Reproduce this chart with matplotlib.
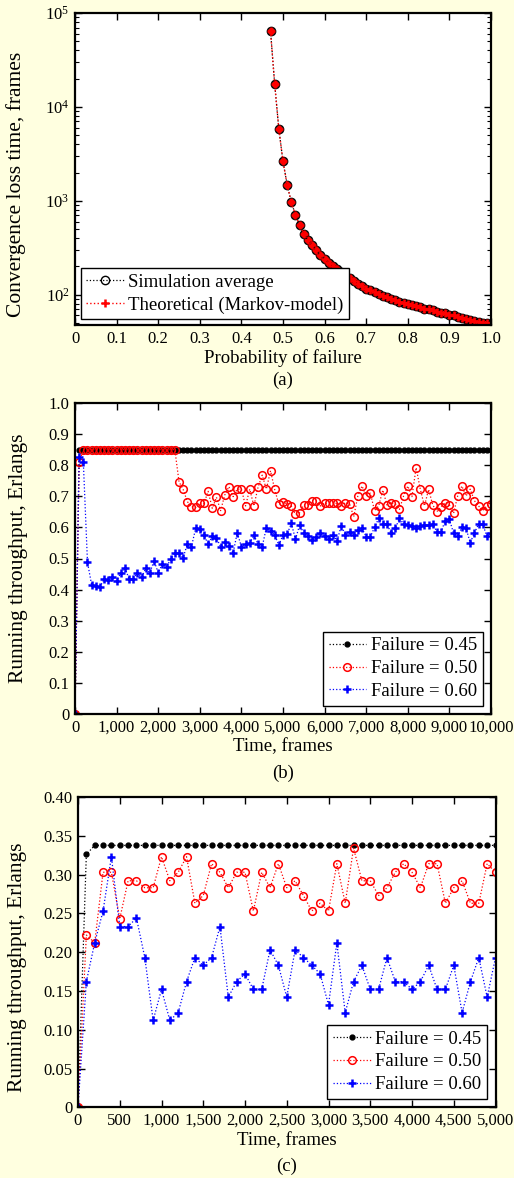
import matplotlib
matplotlib.use("Agg")
import matplotlib.pyplot as plt
from matplotlib.ticker import FuncFormatter, MultipleLocator, LogLocator, NullFormatter
import numpy as np

plt.rcParams['font.family'] = ['Liberation Serif', 'DejaVu Serif']
plt.rcParams['mathtext.fontset'] = 'stix'

BG = '#FFFFE0'

# ---------------- Panel (a) data ----------------
p_fail = [0.47, 0.48, 0.49, 0.50, 0.51, 0.52, 0.53, 0.54, 0.55, 0.56,
          0.57, 0.58, 0.59, 0.60, 0.61, 0.62, 0.63, 0.64, 0.65, 0.66,
          0.67, 0.68, 0.69, 0.70, 0.71, 0.72, 0.73, 0.74, 0.75, 0.76,
          0.77, 0.78, 0.79, 0.80, 0.81, 0.82, 0.83, 0.84, 0.85, 0.86,
          0.87, 0.88, 0.89, 0.90, 0.91, 0.92, 0.93, 0.94, 0.95, 0.96,
          0.97, 0.98, 0.99, 1.00]
sim_avg = [64000, 17500, 5800, 2620, 1480, 960, 710, 546, 445, 385,
           334, 301, 267, 240, 217, 200, 186, 174, 163, 150,
           140, 131, 123, 116, 111, 106, 101, 97, 93.5, 90,
           87, 84.5, 82, 79.5, 77, 75, 73, 71, 69.5, 68,
           66, 64.5, 63, 61, 60, 58.5, 57, 55.5, 54, 52.5,
           51.5, 50.5, 49.5, 48.5]
theory = [64000, 17500, 5800, 2620, 1480, 960, 710, 546, 445, 385,
          334, 301, 267, 240, 217, 200, 186, 174, 163, 150,
          140, 131, 123, 116, 111, 106, 101, 97, 93.5, 90,
          87, 84.5, 82, 79.5, 77, 75, 73, 71, 69.5, 68,
          66, 64.5, 63, 61, 60, 58.5, 57, 55.5, 54, 52.5,
          51.5, 50.5, 49.5, 48.5]

# ---------------- Panel (b) data ----------------
time_b = list(range(0, 10001, 100))
fail045_b = [0.0] + [0.85] * 100
fail050_b = ([0.0, 0.81] + [0.85] * 23 +
             [0.747, 0.722, 0.683, 0.667, 0.664, 0.677, 0.677, 0.716, 0.661, 0.697,
              0.654, 0.704, 0.731, 0.699, 0.723, 0.723, 0.669, 0.723, 0.669, 0.729,
              0.768, 0.723, 0.782, 0.722, 0.674, 0.682, 0.676, 0.669, 0.642, 0.647,
              0.672, 0.672, 0.686, 0.685, 0.669, 0.677, 0.679, 0.679, 0.677, 0.669,
              0.679, 0.676, 0.634, 0.702, 0.733, 0.701, 0.710, 0.654, 0.669, 0.720,
              0.672, 0.679, 0.676, 0.658, 0.702, 0.733, 0.699, 0.792, 0.723, 0.669,
              0.722, 0.672, 0.651, 0.667, 0.679, 0.672, 0.645, 0.702, 0.733, 0.701,
              0.723, 0.686, 0.669, 0.654, 0.669, 0.676])
fail060_b = [0.0, 0.825, 0.811,
             0.488, 0.415, 0.412, 0.409, 0.434, 0.431, 0.440, 0.428, 0.454, 0.470,
             0.434, 0.434, 0.454, 0.440, 0.468, 0.454, 0.493, 0.454, 0.482, 0.474,
             0.497, 0.517, 0.517, 0.503, 0.546, 0.538, 0.597, 0.595, 0.576, 0.546,
             0.572, 0.566, 0.538, 0.552, 0.541, 0.517, 0.583, 0.538, 0.546, 0.549,
             0.576, 0.546, 0.538, 0.599,
             0.590, 0.576, 0.543, 0.576, 0.578, 0.613, 0.562, 0.608, 0.581, 0.572,
             0.559, 0.570, 0.581, 0.572, 0.562, 0.576, 0.557, 0.605, 0.576, 0.586,
             0.576, 0.592, 0.597, 0.570, 0.570, 0.600, 0.629, 0.611, 0.611, 0.581,
             0.597, 0.629, 0.611, 0.608, 0.605, 0.597, 0.605, 0.608, 0.608, 0.611,
             0.586, 0.586, 0.622, 0.626, 0.581, 0.572, 0.600, 0.597, 0.551, 0.581,
             0.611, 0.611, 0.572, 0.581]

# ---------------- Panel (c) data ----------------
time_c = list(range(0, 5001, 100))
fail045_c = [0.0, 0.326] + [0.3376] * 49
fail050_c = [0.0, 0.222, 0.212, 0.303, 0.303, 0.243, 0.292, 0.292, 0.283, 0.283,
             0.323, 0.292, 0.303, 0.323, 0.263, 0.273, 0.314, 0.303, 0.283, 0.303,
             0.303, 0.253, 0.303, 0.283, 0.314, 0.283, 0.292, 0.273, 0.253, 0.263,
             0.253, 0.314, 0.263, 0.334, 0.292, 0.292, 0.273, 0.283, 0.303, 0.314,
             0.303, 0.283, 0.314, 0.314, 0.263, 0.283, 0.292, 0.263, 0.263, 0.314,
             0.303]
fail060_c = [0.0, 0.162, 0.212, 0.253, 0.323, 0.233, 0.233, 0.244, 0.193, 0.112,
             0.152, 0.112, 0.122, 0.162, 0.193, 0.183, 0.193, 0.233, 0.142, 0.162,
             0.172, 0.152, 0.152, 0.203, 0.183, 0.142, 0.203, 0.193, 0.183, 0.172,
             0.132, 0.212, 0.122, 0.162, 0.183, 0.152, 0.152, 0.193, 0.162, 0.162,
             0.152, 0.162, 0.183, 0.152, 0.152, 0.183, 0.122, 0.162, 0.193, 0.142,
             0.193]

legend_b = ['Failure = 0.45', 'Failure = 0.50', 'Failure = 0.60']

W, H = 514, 1178
fig = plt.figure(figsize=(W / 100, H / 100), dpi=100, facecolor=BG)


def ax_rect(l, r, t, b):
    return [l / W, 1 - b / H, (r - l) / W, (b - t) / H]


TICK_FS = 12
XLAB_FS = 13.5
YLAB_FS = 15.5
LEG_FS = 13.5


def style_axes(ax):
    ax.set_facecolor('white')
    for s in ax.spines.values():
        s.set_linewidth(1.6)
        s.set_color('black')
    ax.tick_params(which='both', direction='in', top=True, right=True,
                   labelsize=TICK_FS, colors='black', pad=4)
    ax.tick_params(which='major', length=5, width=1.0)
    ax.tick_params(which='minor', length=3, width=0.8)


def leg(ax, loc, bbox, pad):
    lg = ax.legend(loc=loc, bbox_to_anchor=bbox, fontsize=LEG_FS, fancybox=False,
                   edgecolor='black', framealpha=1, borderpad=0.3,
                   handlelength=2.0, handletextpad=0.25, labelspacing=0.3,
                   borderaxespad=pad)
    lg.get_frame().set_linewidth(1.0)
    return lg


# ---------------- (a) ----------------
ax1 = fig.add_axes(ax_rect(75, 491, 13, 325))
style_axes(ax1)
ax1.plot(p_fail, theory, linestyle='none', marker='o', ms=5.5, mfc='red', mec='none',
         zorder=2)
ax1.plot(p_fail, sim_avg, linestyle=':', color='black', lw=0.9, marker='o', ms=6,
         mfc='none', mec='black', mew=1.0, label='Simulation average', zorder=3)
ax1.plot(p_fail, theory, linestyle=':', color='red', lw=1.0, marker='+', ms=6,
         mew=1.8, mec='red', label='Theoretical (Markov-model)', zorder=4)
ax1.set_yscale('log')
ax1.set_xlim(0, 1.0)
ax1.set_ylim(47.5, 1e5)
ax1.xaxis.set_major_locator(MultipleLocator(0.1))
ax1.xaxis.set_major_formatter(FuncFormatter(lambda v, p: '0' if abs(v) < 1e-9 else f'{v:.1f}'))
ax1.yaxis.set_major_locator(LogLocator(base=10, numticks=10))
ax1.yaxis.set_minor_locator(LogLocator(base=10, subs=np.arange(2, 10), numticks=20))
ax1.yaxis.set_minor_formatter(NullFormatter())
ax1.set_xlabel('Probability of failure', fontsize=XLAB_FS, labelpad=2)
ax1.set_ylabel('Convergence loss time, frames', fontsize=YLAB_FS)
ax1.yaxis.set_label_coords((26 - 75) / 416, 0.45)
leg(ax1, 'lower left', (0.0, 0.0), 0.3)
fig.text((75 + 491) / 2 / W, 1 - 380 / H, '(a)', ha='center', va='center', fontsize=XLAB_FS)

# ---------------- (b) ----------------
ax2 = fig.add_axes(ax_rect(75, 491, 403, 714))
style_axes(ax2)
ax2.plot(time_b, fail045_b, linestyle=':', color='black', lw=0.9, marker='o', ms=3.5,
         mfc='black', mec='black', label=legend_b[0], zorder=3)
ax2.plot(time_b, fail050_b, linestyle=':', color='red', lw=0.9, marker='o', ms=5.5,
         mfc='none', mec='red', mew=1.1, label=legend_b[1], zorder=4)
ax2.plot(time_b, fail060_b, linestyle=':', color='blue', lw=0.9, marker='+', ms=6,
         mew=1.8, mec='blue', label=legend_b[2], zorder=5)
ax2.set_xlim(0, 10000)
ax2.set_ylim(0, 1.0)
ax2.xaxis.set_major_locator(MultipleLocator(1000))
ax2.xaxis.set_major_formatter(FuncFormatter(lambda v, p: f'{v:,.0f}'))
ax2.yaxis.set_major_locator(MultipleLocator(0.1))
ax2.yaxis.set_major_formatter(FuncFormatter(lambda v, p: '0' if abs(v) < 1e-9 else f'{v:.1f}'))
ax2.set_xlabel('Time, frames', fontsize=XLAB_FS, labelpad=2)
ax2.set_ylabel('Running throughput, Erlangs', fontsize=YLAB_FS)
ax2.yaxis.set_label_coords((28 - 75) / 416, 0.5)
leg(ax2, 'lower right', (1.0, 0.0), 0.45)
fig.text((75 + 491) / 2 / W, 1 - 773 / H, '(b)', ha='center', va='center', fontsize=XLAB_FS)

# ---------------- (c) ----------------
ax3 = fig.add_axes(ax_rect(78, 495.5, 797, 1107.3))
style_axes(ax3)
ax3.plot(time_c, fail045_c, linestyle=':', color='black', lw=0.9, marker='o', ms=3.5,
         mfc='black', mec='black', label=legend_b[0], zorder=3)
ax3.plot(time_c, fail050_c, linestyle=':', color='red', lw=0.9, marker='o', ms=5.5,
         mfc='none', mec='red', mew=1.1, label=legend_b[1], zorder=4)
ax3.plot(time_c, fail060_c, linestyle=':', color='blue', lw=0.9, marker='+', ms=6,
         mew=1.8, mec='blue', label=legend_b[2], zorder=5)
ax3.set_xlim(0, 5000)
ax3.set_ylim(0, 0.40)
ax3.xaxis.set_major_locator(MultipleLocator(500))
ax3.xaxis.set_major_formatter(FuncFormatter(lambda v, p: f'{v:,.0f}'))
ax3.yaxis.set_major_locator(MultipleLocator(0.05))
ax3.yaxis.set_major_formatter(FuncFormatter(lambda v, p: '0' if abs(v) < 1e-9 else f'{v:.2f}'))
ax3.set_xlabel('Time, frames', fontsize=XLAB_FS, labelpad=2)
ax3.set_ylabel('Running throughput, Erlangs', fontsize=YLAB_FS)
ax3.yaxis.set_label_coords((27 - 78) / 417.5, 0.45)
leg(ax3, 'lower right', (1.0, 0.0), 0.45)
fig.text((78 + 495.5) / 2 / W, 1 - 1166 / H, '(c)', ha='center', va='center', fontsize=XLAB_FS)

for ax in (ax1, ax2, ax3):
    for sp in ax.spines.values():
        sp.set_zorder(10)

fig.savefig('out.png', dpi=100, facecolor=BG)
